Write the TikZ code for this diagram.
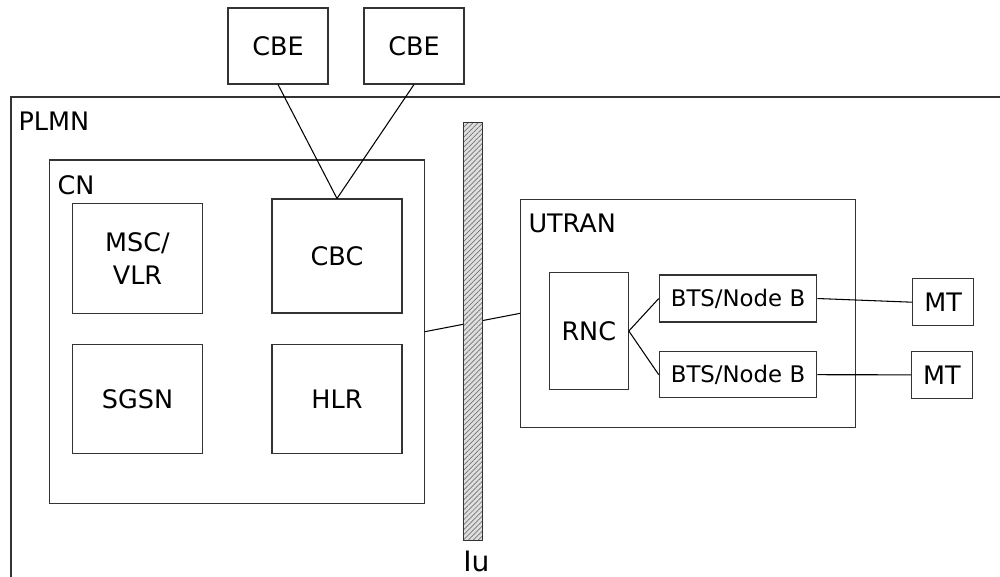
\documentclass[tikz,border=0pt]{standalone}
\usepackage{fontspec}
\setmainfont{DejaVu Sans}
\usetikzlibrary{positioning}
\usetikzlibrary{patterns.meta}

\begin{document}
\begin{tikzpicture}[x=0.02cm, y=-0.02cm, -, semithick]
  \tikzstyle{every node}=[font=\fontsize{14.5}{19}\selectfont, text=black]
  \tikzstyle{box}=[draw=black!80, inner sep=0pt, align=center]
  \tikzstyle{lbl}=[anchor=base west, inner sep=0pt]
  \tikzstyle{bar}=[draw=black!80, inner sep=0pt, preaction={fill=gray!25},
    pattern={Lines[angle=45, distance=2pt, line width=0.4pt]}, pattern color=black!55]

  \useasboundingbox (0,0) rectangle (1000,576);
  \clip (0,0) rectangle (1000,576);

  % PLMN
  \draw[black!80] (11,97) rectangle (1020,600);
  \node[lbl] (plmn) at (18,130) {PLMN};

  % CBE
  \node[box, minimum width=2cm, minimum height=1.52cm] (CBE1) at (278,46) {CBE};
  \node[box, minimum width=2cm, minimum height=1.52cm] (CBE2) at (414,46) {CBE};

  % CN
  \node[box, minimum width=7.5cm, minimum height=6.87cm] (CN) at (236.8,331.7) {};
  \node[lbl] (cnlbl) at (57,194) {CN};
  \node[box, minimum width=2.61cm, minimum height=2.19cm] (MSC) at (137.5,258.7) {MSC/\\VLR};
  \node[box, minimum width=2.6cm, minimum height=2.28cm] (CBC) at (337,256) {CBC};
  \node[box, minimum width=2.61cm, minimum height=2.18cm] (SGSN) at (137.5,398.8) {SGSN};
  \node[box, minimum width=2.6cm, minimum height=2.19cm] (HLR) at (337,399) {HLR};

  % UTRAN
  \node[box, minimum width=6.7cm, minimum height=4.57cm] (UTRAN) at (688.2,313.3) {};
  \node[lbl] (utranlbl) at (528,232) {UTRAN};
  \node[box, minimum width=1.58cm, minimum height=2.33cm] (RNC) at (588.8,331) {RNC};
  \node[box, minimum width=3.15cm, minimum height=0.94cm, font=\fontsize{13}{16}\selectfont] (BTS1) at (738,298.5) {BTS/Node B};
  \node[box, minimum width=3.15cm, minimum height=0.92cm, font=\fontsize{13}{16}\selectfont] (BTS2) at (738,374.7) {BTS/Node B};
  \node[box, minimum width=1.21cm, minimum height=0.94cm] (MT1) at (943.2,302.2) {MT};
  \node[box, minimum width=1.21cm, minimum height=0.94cm] (MT2) at (942,374.8) {MT};

  \path
    (CBE1.south) edge (CBC.north)
    (CBE2.south) edge (CBC.north)
    (CN.east) edge (UTRAN.west)
    (RNC.east) edge (BTS1.west)
    (RNC.east) edge (BTS2.west)
    (BTS1.east) edge (MT1.west)
    (BTS2.east) edge (MT2.west);

  % Iu
  \node[bar, minimum width=0.39cm, minimum height=8.36cm] (Iu) at (473,331.7) {};
  \node[font=\fontsize{16}{19}\selectfont, inner sep=0pt, anchor=base] (iulbl) at (476.5,571) {Iu};
\end{tikzpicture}
\end{document}
